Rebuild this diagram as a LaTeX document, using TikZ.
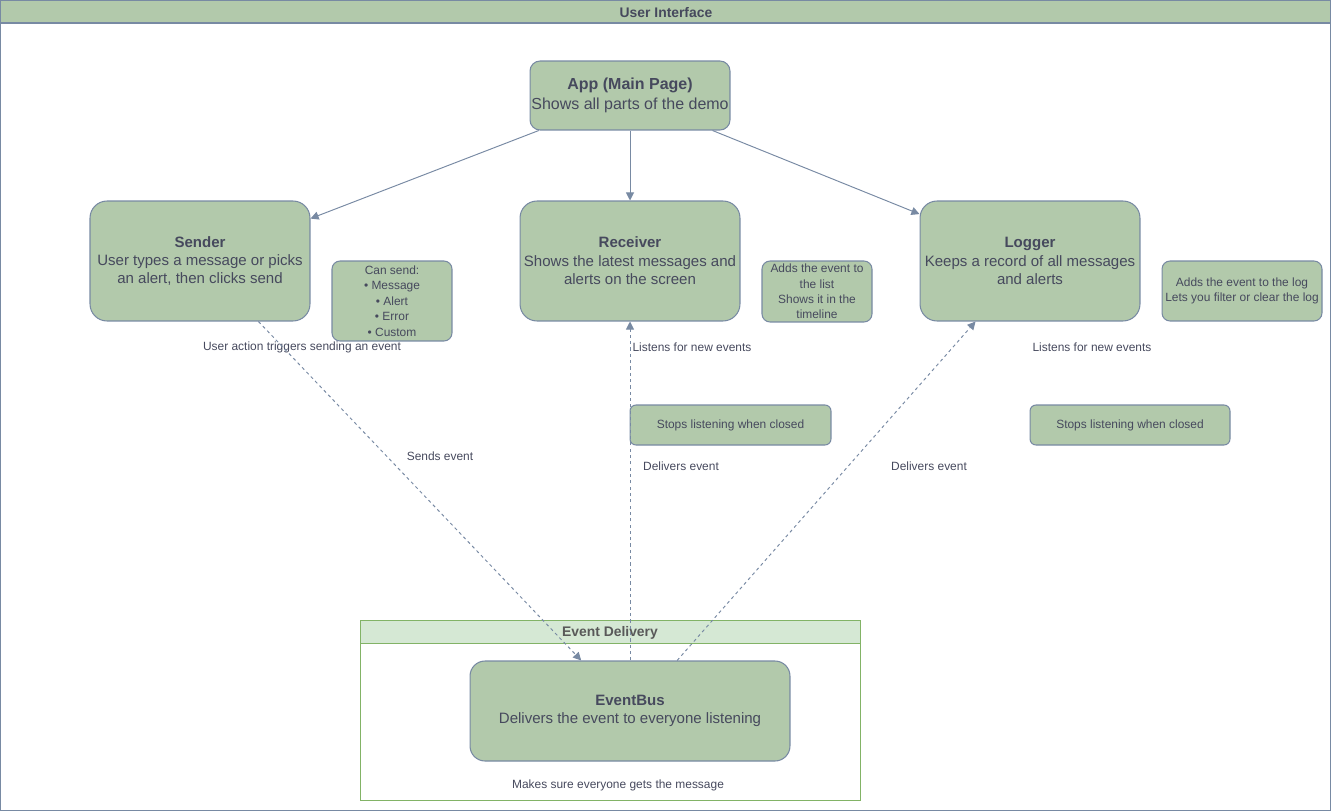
\documentclass[tikz,border=0pt]{standalone}
\usepackage{fontspec}
\setmainfont{Liberation Sans}
\usetikzlibrary{arrows.meta}

\definecolor{boxfill}{HTML}{B2C9AB}
\definecolor{boxline}{HTML}{788AA3}
\definecolor{boxtext}{HTML}{46495D}
\definecolor{lanefill}{HTML}{D5E8D4}
\definecolor{laneline}{HTML}{82B366}
\definecolor{lanetext}{HTML}{595959}

\begin{document}
\begin{tikzpicture}[x=0.02cm, y=-0.02cm,
    mainbox/.style={draw=boxline, fill=boxfill, text=boxtext, rounded corners=0.34cm,
        line width=0.6pt, align=center, inner sep=0pt, minimum width=4.4cm,
        minimum height=2.4cm, font=\fontsize{8.55}{10.5}\selectfont},
    notebox/.style={draw=boxline, fill=boxfill, text=boxtext, rounded corners=0.16cm,
        line width=0.6pt, align=center, inner sep=0pt, font=\fontsize{6.8}{8.8}\selectfont},
    plain/.style={text=boxtext, font=\fontsize{6.8}{8.8}\selectfont},
    link/.style={draw=boxline, line width=0.55pt, -{Triangle[length=4.6pt,width=4.6pt]}},
    eventlink/.style={link, dash pattern=on 1.8pt off 1.8pt}]

    % Draw outer frame ("User Interface")
    \useasboundingbox (0,0) rectangle (1331,811);
    \draw[boxline, line width=0.6pt] (0.5,0.5) rectangle (1330.5,810.5);
    \filldraw[fill=boxfill, draw=boxline, line width=0.6pt] (0.5,0.5) rectangle (1330.5,23);
    \node[text=boxtext, font=\fontsize{7.9}{9}\selectfont\bfseries] (uititle) at (666,12.5) {User Interface};

    % Event Delivery lane
    \draw[laneline, line width=0.5pt] (360,620) rectangle (860,800);
    \filldraw[fill=lanefill, draw=laneline, line width=0.5pt] (360,620) rectangle (860,643);
    \node[text=lanetext, font=\fontsize{7.9}{9}\selectfont\bfseries] (lanetitle) at (610,632.5) {Event Delivery};

    % Main boxes
    \node[mainbox, minimum width=4cm, minimum height=1.38cm, rounded corners=0.2cm,
        font=\fontsize{9.1}{11}\selectfont] (app) at (630,95.5)
        {\textbf{App (Main Page)}\\Shows all parts of the demo};
    \node[mainbox] (sender) at (200,261)
        {\textbf{Sender}\\User types a message or picks\\an alert, then clicks send};
    \node[mainbox] (receiver) at (630,261)
        {\textbf{Receiver}\\Shows the latest messages and\\alerts on the screen};
    \node[mainbox] (logger) at (1030,261)
        {\textbf{Logger}\\Keeps a record of all messages\\and alerts};
    \node[mainbox, minimum width=6.4cm, minimum height=2cm, rounded corners=0.3cm] (bus) at (630,711)
        {\textbf{EventBus}\\Delivers the event to everyone listening};

    % Notes
    \node[notebox, minimum width=2.4cm, minimum height=1.6cm] (sendnote) at (392,301)
        {Can send:\\• Message\\• Alert\\• Error\\• Custom};
    \node[notebox, minimum width=2.2cm, minimum height=1.22cm] (recvnote) at (817,291.5)
        {Adds the event to\\the list\\Shows it in the\\timeline};
    \node[notebox, minimum width=3.2cm, minimum height=1.2cm] (lognote) at (1242,291)
        {Adds the event to the log\\Lets you filter or clear the log};
    \node[notebox, minimum width=4.02cm, minimum height=0.8cm, rounded corners=0.12cm] (recvstop) at (730.5,425)
        {Stops listening when closed};
    \node[notebox, minimum width=4cm, minimum height=0.8cm, rounded corners=0.12cm] (logstop) at (1130,425)
        {Stops listening when closed};

    % Loose labels
    \node[plain] (actionlbl) at (302,347.5) {User action triggers sending an event};
    \node[plain] (recvlbl) at (692,347.5) {Listens for new events};
    \node[plain] (loglbl) at (1092,347.5) {Listens for new events};
    \node[plain] (sendlbl) at (440,456.5) {Sends event};
    \node[plain] (deliv1) at (681,466.5) {Delivers event};
    \node[plain] (deliv2) at (929,466.5) {Delivers event};
    \node[plain] (buslbl) at (618,785.5) {Makes sure everyone gets the message};

    % App shows the parts
    \draw[link] (app.201.5) -- (sender.21.8);
    \draw[link] (app.south) -- (receiver.north);
    \draw[link] (app.337.3) -- (logger.157.3);

    % Events through the bus
    \draw[eventlink] (sender.314) -- (bus.134);
    \draw[eventlink] (bus.north) -- (receiver.south);
    \draw[eventlink] (bus.47.4) -- (logger.228.5);
\end{tikzpicture}
\end{document}
